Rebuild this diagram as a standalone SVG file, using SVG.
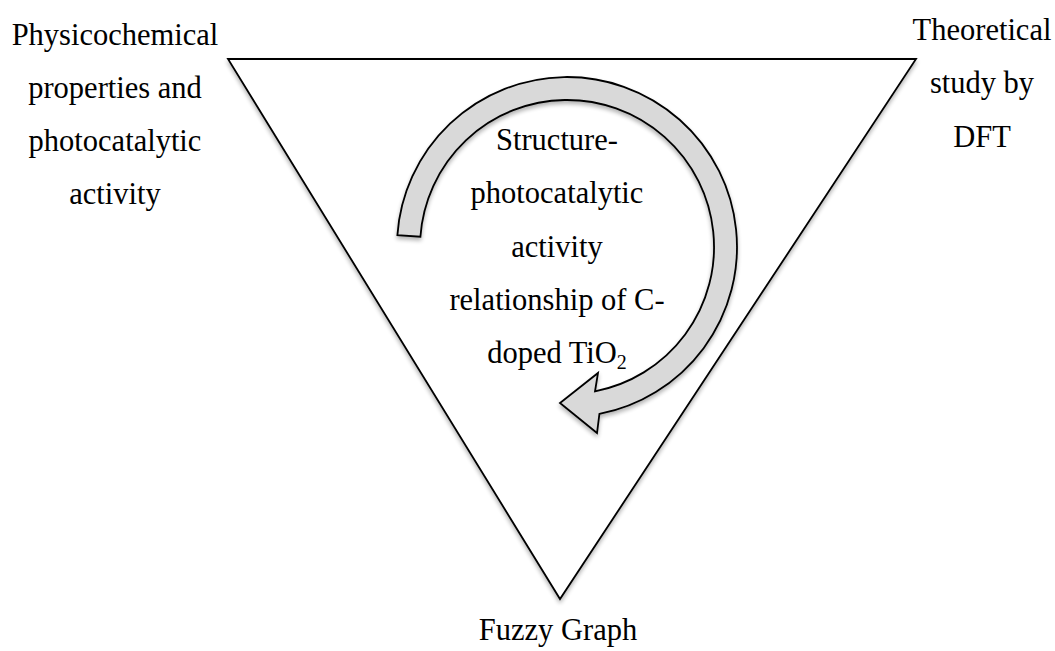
<svg xmlns="http://www.w3.org/2000/svg" width="1055" height="651" viewBox="0 0 1055 651">
<defs>
<filter id="sh" x="-10%" y="-10%" width="120%" height="120%">
<feGaussianBlur in="SourceAlpha" stdDeviation="2"/>
<feOffset dx="0" dy="3" result="b"/>
<feComponentTransfer><feFuncA type="linear" slope="0.3"/></feComponentTransfer>
<feMerge><feMergeNode/><feMergeNode in="SourceGraphic"/></feMerge>
</filter>
</defs>
<style>
text{font-family:"Liberation Serif","Times New Roman",serif;font-size:30.5px;fill:#000;text-anchor:middle}
.shape{stroke:#000;stroke-width:1.8;stroke-linejoin:miter}
</style>
<rect width="1055" height="651" fill="#fff"/>
<g id="triangle">
<polygon class="shape" points="228,59 916,59 560,599" fill="#fff" filter="url(#sh)"/>
</g>
<g id="connectors">
<path class="shape" fill="#d9d9d9" filter="url(#sh)" d="M397.4,235.1 A170 170 0 1 1 599.4,413.9 L597,433 L560,403 L598,373 L595,391.3 A147 147 0 1 0 420.4,236.7 Z"/>
</g>
<g id="node-left">
<text x="115" y="45">Physicochemical</text>
<text x="115" y="98">properties and</text>
<text x="115" y="151">photocatalytic</text>
<text x="115" y="204">activity</text>
</g>
<g id="node-right">
<text x="982" y="40">Theoretical</text>
<text x="982" y="93">study by</text>
<text x="982" y="147">DFT</text>
</g>
<g id="node-center">
<text x="557" y="150">Structure-</text>
<text x="557" y="203">photocatalytic</text>
<text x="557" y="257">activity</text>
<text x="557" y="310">relationship of C-</text>
<text x="557" y="363">doped TiO<tspan font-size="20" dy="6">2</tspan></text>
</g>
<g id="node-bottom">
<text x="558" y="640">Fuzzy Graph</text>
</g>
</svg>
